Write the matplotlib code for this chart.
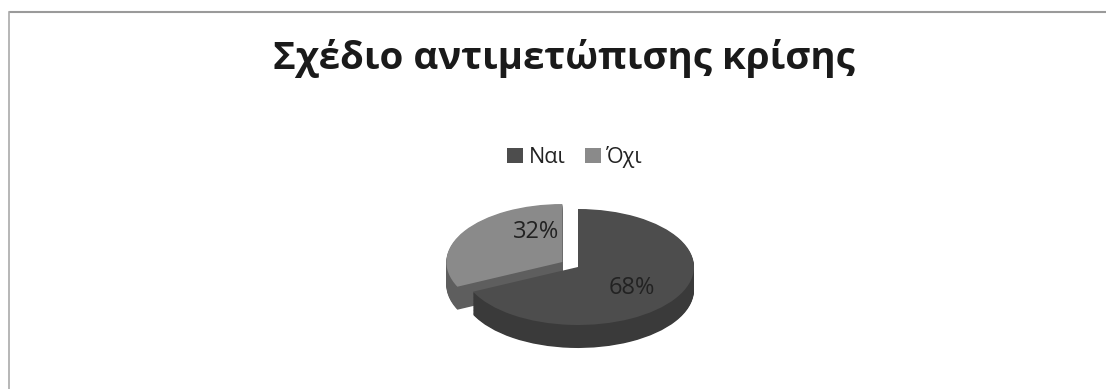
import numpy as np
import matplotlib.pyplot as plt
from matplotlib.lines import Line2D

### Data ###

title = "Σχέδιο αντιμετώπισης κρίσης"
labels = ["Ναι", "Όχι"]
shares = [68, 32]  # [%]

top_colors = ["#4d4d4d", "#8a8a8a"]
side_colors = ["#3a3a3a", "#5e5e5e"]
explode = [0.0, 0.16]

### Layout (pixels) ###

W, H = 1106, 389
cx, cy = 578, 267    # centre of the pie top face
rx, ry = 116, 58     # radii of the flattened pie
depth = 23           # thickness of the pie

fig = plt.figure(figsize=(W / 100, H / 100), dpi=100)
fig.patch.set_facecolor("white")

ax = fig.add_axes([0, 0, 1, 1])
ax.axis("off")

# side of the pie: stacked copies going down
steps = 30
for k in range(steps, 0, -1):
    dz = depth / ry * k / steps
    ax.pie(shares, colors=side_colors, explode=explode, startangle=90,
           counterclock=False, center=(0, -dz), radius=1.0,
           wedgeprops=dict(linewidth=0), frame=False)

# top face
wedges, texts, autotexts = ax.pie(
    shares, colors=top_colors, explode=explode, startangle=90,
    counterclock=False, center=(0, 0), radius=1.0,
    autopct="%d%%", pctdistance=0.55,
    wedgeprops=dict(linewidth=0), frame=False,
    textprops=dict(fontsize=17, color="#222222", family="Open Sans"))

# pixel-like scaling, flattened in y
ax.set_xlim(-cx / rx, (W - cx) / rx)
ax.set_ylim(-(H - cy) / ry, cy / ry)
ax.set_aspect("auto")

# nudge labels a bit
autotexts[0].set_position((0.46, -0.36))
autotexts[1].set_position((-0.36, 0.6))

# title
fig.text(564 / W, 1 - 59 / H, title, ha="center", va="center",
         fontsize=27.7, fontweight="bold", family="Open Sans", color="#1a1a1a")

# legend
leg = fig.legend(wedges, labels, loc="center", bbox_to_anchor=(575 / W, 1 - 157 / H),
                 ncol=2, frameon=False, handlelength=0.75, handleheight=0.75,
                 handletextpad=0.25, columnspacing=0.9,
                 prop=dict(family="Open Sans", size=15.5))
for t in leg.get_texts():
    t.set_color("#222222")

# scanned chart border
fig.add_artist(Line2D([10 / W, 1], [1 - 12 / H] * 2, color="#9a9a9a", lw=1.5,
                      transform=fig.transFigure))
fig.add_artist(Line2D([9 / W] * 2, [0, 1 - 12 / H], color="#aaaaaa", lw=1.2,
                      transform=fig.transFigure))

fig.savefig("out.png", dpi=100, facecolor="white")
